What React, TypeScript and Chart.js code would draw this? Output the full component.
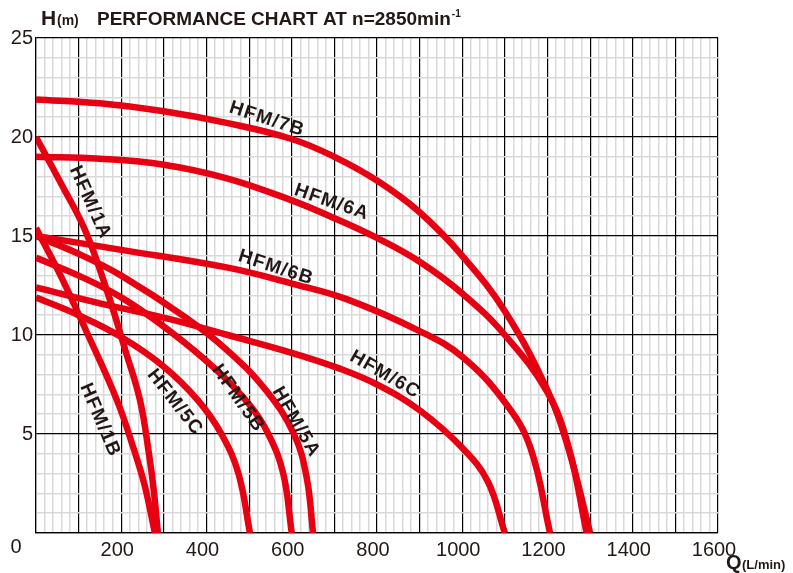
import React, { useEffect, useRef } from "react";
import { Chart, registerables } from "chart.js";

Chart.register(...registerables);

type P = [number, number];

const SERIES_NAMES = ["HFM/7B", "HFM/6A", "HFM/6B", "HFM/6C", "HFM/5A", "HFM/5B", "HFM/5C", "HFM/1A", "HFM/1B"];

const HFM_7B: P[] = [[0, 21.9], [150, 21.7], [300, 21.3], [450, 20.7], [600, 19.9], [700, 19.0], [800, 17.8], [900, 16.2], [1000, 14.0], [1100, 11.2], [1200, 7.2], [1250, 4.2], [1300, 0]];
const HFM_6A: P[] = [[0, 19.0], [150, 18.9], [300, 18.6], [450, 17.9], [600, 16.8], [700, 15.9], [800, 14.9], [900, 13.7], [1000, 12.1], [1100, 10.0], [1200, 7.1], [1250, 4.3], [1292, 0]];
const HFM_6B: P[] = [[0, 15.0], [200, 14.3], [450, 13.4], [600, 12.6], [730, 11.8], [900, 10.2], [1000, 8.9], [1100, 6.6], [1160, 4.3], [1206, 0]];
const HFM_6C: P[] = [[0, 12.4], [150, 11.6], [314, 10.8], [450, 10.0], [600, 9.1], [713, 8.3], [800, 7.5], [900, 6.2], [1000, 4.3], [1060, 2.6], [1100, 0]];
const HFM_5A: P[] = [[0, 15.0], [100, 14.1], [200, 13.0], [350, 10.9], [450, 9.2], [540, 7.2], [605, 5.0], [635, 2.8], [650, 0]];
const HFM_5B: P[] = [[0, 13.9], [100, 13.0], [200, 11.9], [314, 10.2], [420, 8.3], [500, 6.5], [545, 5.0], [580, 3.0], [600, 0]];
const HFM_5C: P[] = [[0, 11.9], [100, 11.0], [200, 9.9], [300, 8.4], [380, 6.7], [435, 5.0], [475, 3.0], [502, 0]];
const HFM_1A: P[] = [[0, 20.0], [60, 17.6], [115, 15.3], [170, 12.0], [210, 9.2], [244, 6.7], [265, 4.0], [276, 2.2], [286, 0]];
const HFM_1B: P[] = [[0, 15.4], [60, 12.9], [120, 10.1], [190, 6.7], [230, 4.2], [255, 2.4], [279, 0]];

const SERIES: P[][] = [HFM_7B, HFM_6A, HFM_6B, HFM_6C, HFM_5A, HFM_5B, HFM_5C, HFM_1A, HFM_1B];

// label centre (data coords) and rotation in degrees
const LABEL_X = [542, 694, 563, 819, 610, 474, 326, 127, 150];
const LABEL_Y = [20.9, 16.7, 13.4, 8.0, 5.6, 6.8, 6.6, 16.7, 5.7];
const LABEL_ROT = [18, 19, 18, 30, 60, 55, 52, 66, 67];

const X_MIN = 0, X_MAX = 1600, X_STEP = 20;
const Y_MIN = 0, Y_MAX = 25, Y_STEP = 1;

const RED = "#e60012";
const INK = "#231815";
const FONT = "'Liberation Sans', Arial, sans-serif";

const labelPlugin = {
  id: "curveLabels",
  afterDatasetsDraw(chart: any) {
    const { ctx, scales } = chart;
    const xs = scales.x, ys = scales.y;
    ctx.save();
    ctx.fillStyle = INK;
    ctx.font = `bold 19px ${FONT}`;
    try { (ctx as any).letterSpacing = "1.2px"; } catch (e) {}
    ctx.textAlign = "center";
    ctx.textBaseline = "middle";
    SERIES_NAMES.forEach((n, i) => {
      ctx.save();
      ctx.translate(xs.getPixelForValue(LABEL_X[i]), ys.getPixelForValue(LABEL_Y[i]));
      ctx.rotate((LABEL_ROT[i] * Math.PI) / 180);
      ctx.fillText(n, 0, 0);
      ctx.restore();
    });
    try { (ctx as any).letterSpacing = "0px"; } catch (e) {}
    ctx.restore();
  },
  afterDraw(chart: any) {
    const { ctx, scales } = chart;
    const xs = scales.x;
    ctx.save();
    ctx.fillStyle = INK;
    ctx.font = `20px ${FONT}`;
    ctx.textAlign = "center";
    ctx.textBaseline = "middle";
    ctx.fillText("0", xs.getPixelForValue(0) - 20, 547);
    ctx.textAlign = "left";
    ctx.textBaseline = "alphabetic";
    ctx.font = `bold 21px ${FONT}`;
    ctx.fillText("H", 41, 25);
    ctx.font = `bold 14px ${FONT}`;
    ctx.fillText("(m)", 57, 25);
    const t = "PERFORMANCE CHART AT n=2850min";
    ctx.font = `bold 19px ${FONT}`;
    ctx.fillText(t, 97, 25);
    const w = ctx.measureText(t).width;
    ctx.font = `bold 10px ${FONT}`;
    ctx.fillText("-1", 97 + w + 1, 17);
    ctx.font = `bold 20px ${FONT}`;
    ctx.fillText("Q", 726, 569);
    ctx.font = `bold 13px ${FONT}`;
    ctx.fillText("(L/min)", 742, 569);
    ctx.restore();
  },
};

export default function App() {
  const ref = useRef<HTMLCanvasElement>(null);
  useEffect(() => {
    if (!ref.current) return;
    const chart = new Chart(ref.current, {
      type: "line",
      data: {
        datasets: SERIES.map((s, i) => ({
          label: SERIES_NAMES[i],
          data: s.map(([x, y]) => ({ x, y })),
          borderColor: RED,
          borderWidth: 6.5,
          pointRadius: 0,
          fill: false,
          tension: 0.4,
          borderCapStyle: "butt" as const,
        })),
      },
      options: {
        responsive: false,
        animation: false,
        events: [],
        layout: { padding: { left: 0, right: 75, top: 38, bottom: 0 } },
        plugins: { legend: { display: false }, tooltip: { enabled: false }, title: { display: false } },
        scales: {
          x: {
            type: "linear",
            min: X_MIN,
            max: X_MAX,
            afterFit: (s: any) => { s.height = 40; },
            border: { display: true, color: "#000", width: 1.2 },
            grid: {
              drawTicks: false,
              color: (c: any) => (c.tick && c.tick.value % 100 === 0 ? "#000" : "#d9d9d9"),
              lineWidth: (c: any) => (c.tick && c.tick.value % 100 === 0 ? 1.2 : 1.5),
            },
            ticks: {
              stepSize: X_STEP,
              autoSkip: false,
              maxRotation: 0,
              padding: 5,
              labelOffset: -4,
              color: INK,
              font: { family: FONT, size: 20 },
              callback: (v: any) => (v % 200 === 0 && v > 0 ? String(v) : ""),
            },
          },
          y: {
            type: "linear",
            min: Y_MIN,
            max: Y_MAX,
            afterFit: (s: any) => { s.width = 36; },
            border: { display: true, color: "#000", width: 1.2 },
            grid: {
              drawTicks: false,
              color: (c: any) => (c.tick && c.tick.value % 5 === 0 ? "#000" : "#d9d9d9"),
              lineWidth: (c: any) => (c.tick && c.tick.value % 5 === 0 ? 1.2 : 1.5),
            },
            ticks: {
              stepSize: Y_STEP,
              autoSkip: false,
              padding: 3,
              color: INK,
              font: { family: FONT, size: 20 },
              callback: (v: any) => (v % 5 === 0 && v > 0 ? String(v) : ""),
            },
          },
        },
      },
      plugins: [labelPlugin],
    });
    return () => chart.destroy();
  }, []);
  return (
    <div style={{ position: "fixed", left: 0, top: 0, width: 793, height: 573, background: "#fff" }}>
      <canvas ref={ref} width={793} height={573} style={{ width: 793, height: 573, display: "block" }} />
    </div>
  );
}
